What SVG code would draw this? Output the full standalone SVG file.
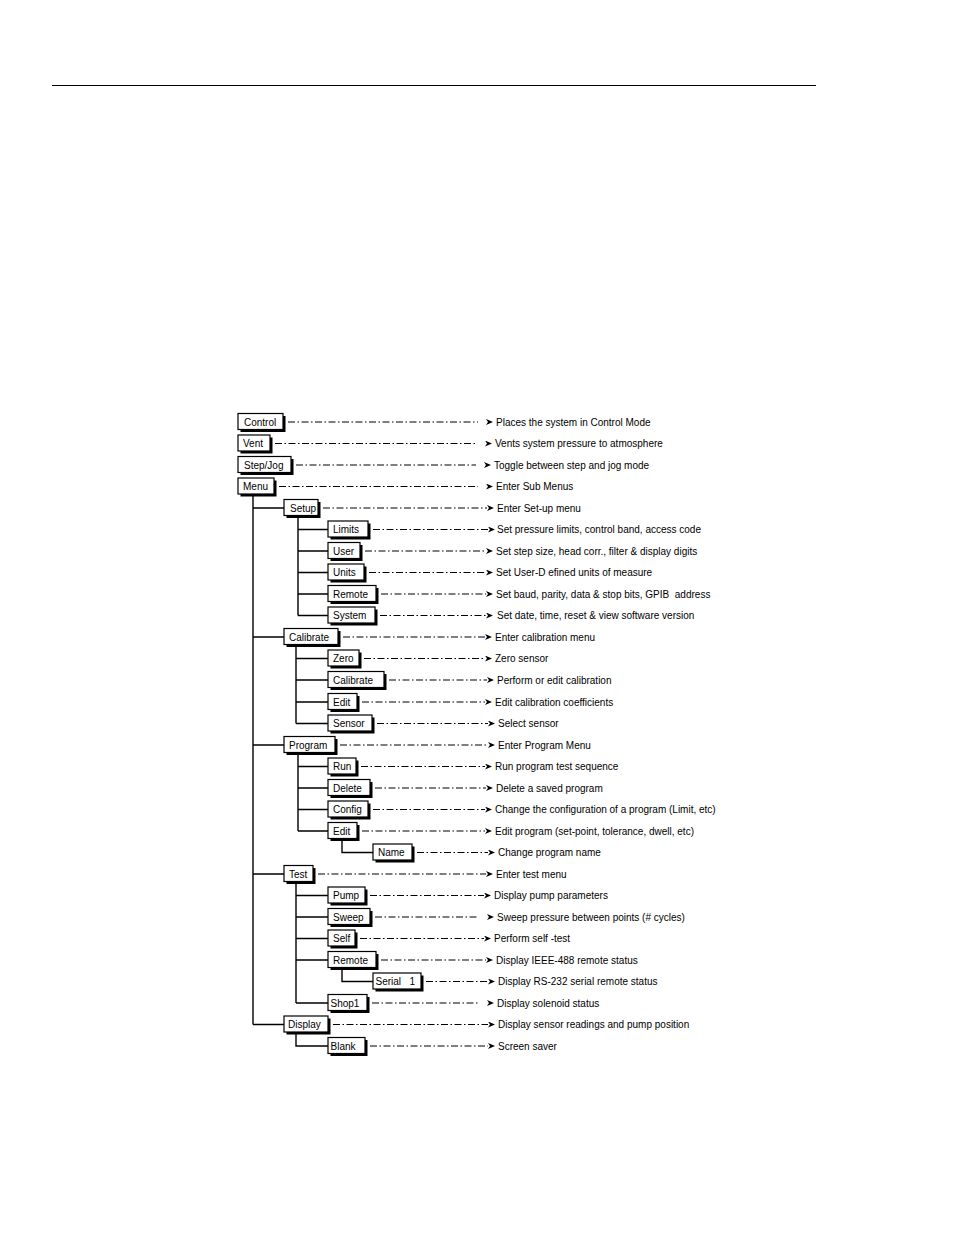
<svg xmlns="http://www.w3.org/2000/svg" width="954" height="1235" viewBox="0 0 954 1235">
<style>
.sh{fill:#000}
.box{fill:#fff;stroke:#000;stroke-width:1.2}
.t{font-family:"Liberation Sans",Arial,sans-serif;font-size:10px;fill:#000;white-space:pre}
.tree{stroke:#000;stroke-width:1.4;fill:none}
.dd{stroke:#000;stroke-width:1.1;fill:none;stroke-dasharray:7 2.5 1.5 2.5;marker-end:url(#ah)}
.dg{stroke:#000;stroke-width:1.1;fill:none;stroke-dasharray:7 2.5 1.5 2.5;marker-end:url(#ahg)}
</style>
<defs>
<marker id="ah" markerUnits="userSpaceOnUse" viewBox="0 0 8 6" markerWidth="8" markerHeight="6" refX="0" refY="3" orient="auto"><path d="M0,0 L7,3 L0,6 L2,3 Z" fill="#000"/></marker>
<marker id="ahg" markerUnits="userSpaceOnUse" viewBox="0 0 8 6" markerWidth="8" markerHeight="6" refX="-8" refY="3" orient="auto"><path d="M0,0 L7,3 L0,6 L2,3 Z" fill="#000"/></marker>
</defs>
<rect width="954" height="1235" fill="#fff"/>
<line x1="52" y1="85.5" x2="816" y2="85.5" stroke="#000" stroke-width="1.2"/>

<g id="connectors">
<path class="tree" d="M253,495 V1024.5 M253,508 H284 M253,637 H284 M253,745 H284 M253,874 H284 M253,1024.5 H284"/>
<path class="tree" d="M298,516 V615.5 M298,529.5 H328 M298,551 H328 M298,572.5 H328 M298,594 H328 M298,615.5 H328"/>
<path class="tree" d="M296,645 V723.5 M296,658.5 H328 M296,680 H328 M296,702 H328 M296,723.5 H328"/>
<path class="tree" d="M298,753 V831 M298,766.5 H328 M298,788 H328 M298,809.5 H328 M298,831 H328"/>
<path class="tree" d="M342,839 V852.5 H373"/>
<path class="tree" d="M296,882 V1003 M296,895.5 H328 M296,917 H328 M296,938.5 H328 M296,960 H328 M296,1003 H328"/>
<path class="tree" d="M342,968 V981.5 H373"/>
<path class="tree" d="M296,1032.5 V1046 H328"/>

<path class="dg" d="M288,422 H478"/>
<path class="dg" d="M275,443.5 H477"/>
<path class="dg" d="M296,465 H476"/>
<path class="dg" d="M279,486.5 H478"/>
<path class="dd" d="M323,508 H487"/>
<path class="dd" d="M373,529.5 H488"/>
<path class="dd" d="M365,551 H486"/>
<path class="dd" d="M369,572.5 H486"/>
<path class="dd" d="M381,594 H486"/>
<path class="dd" d="M380,615.5 H486"/>
<path class="dd" d="M343,637 H485"/>
<path class="dd" d="M364,658.5 H485"/>
<path class="dd" d="M389,680 H487"/>
<path class="dd" d="M362,702 H485"/>
<path class="dd" d="M377,723.5 H488"/>
<path class="dd" d="M340,745 H488"/>
<path class="dd" d="M361,766.5 H485"/>
<path class="dd" d="M375,788 H486"/>
<path class="dd" d="M373,809.5 H485"/>
<path class="dd" d="M362,831 H485"/>
<path class="dd" d="M417,852.5 H488"/>
<path class="dd" d="M318,874 H486"/>
<path class="dd" d="M370,895.5 H484"/>
<path class="dg" d="M375,917 H479"/>
<path class="dd" d="M360,938.5 H484"/>
<path class="dd" d="M381,960 H486"/>
<path class="dd" d="M426,981.5 H488"/>
<path class="dg" d="M372,1003 H479"/>
<path class="dd" d="M333,1024.5 H488"/>
<path class="dd" d="M370,1046 H488"/>
</g>

<g id="n-control"><rect class="sh" x="240.5" y="416" width="45" height="16"/><rect class="box" x="238" y="413.5" width="45" height="16"/><text class="t" x="244" y="425.5">Control</text><text class="t" x="496" y="425.5">Places the system in Control Mode</text></g>
<g id="n-vent"><rect class="sh" x="240.5" y="437.5" width="32" height="16"/><rect class="box" x="238" y="435" width="32" height="16"/><text class="t" x="243" y="447">Vent</text><text class="t" x="495" y="447">Vents system pressure to atmosphere</text></g>
<g id="n-stepjog"><rect class="sh" x="240.5" y="459" width="53" height="16"/><rect class="box" x="238" y="456.5" width="53" height="16"/><text class="t" x="244" y="468.5">Step/Jog</text><text class="t" x="494" y="468.5">Toggle between step and jog mode</text></g>
<g id="n-menu"><rect class="sh" x="240.5" y="480.5" width="36" height="16"/><rect class="box" x="238" y="478" width="36" height="16"/><text class="t" x="243" y="490">Menu</text><text class="t" x="496" y="490">Enter Sub Menus</text></g>

<g id="n-setup"><rect class="sh" x="286.5" y="502" width="34" height="16"/><rect class="box" x="284" y="499.5" width="34" height="16"/><text class="t" x="290" y="511.5">Setup</text><text class="t" x="497" y="511.5">Enter Set-up menu</text></g>
<g id="n-limits"><rect class="sh" x="330.5" y="523.5" width="40" height="16"/><rect class="box" x="328" y="521" width="40" height="16"/><text class="t" x="333" y="533">Limits</text><text class="t" x="497" y="533">Set pressure limits, control band, access code</text></g>
<g id="n-user"><rect class="sh" x="330.5" y="545" width="32" height="16"/><rect class="box" x="328" y="542.5" width="32" height="16"/><text class="t" x="333" y="554.5">User</text><text class="t" x="496" y="554.5">Set step size, head corr., filter &amp; display digits</text></g>
<g id="n-units"><rect class="sh" x="330.5" y="566.5" width="36" height="16"/><rect class="box" x="328" y="564" width="36" height="16"/><text class="t" x="333" y="576">Units</text><text class="t" x="496" y="576">Set User-D efined units of measure</text></g>
<g id="n-remote"><rect class="sh" x="330.5" y="588" width="48" height="16"/><rect class="box" x="328" y="585.5" width="48" height="16"/><text class="t" x="333" y="597.5">Remote</text><text class="t" x="496" y="597.5">Set baud, parity, data &amp; stop bits, GPIB  address</text></g>
<g id="n-system"><rect class="sh" x="330.5" y="609.5" width="47" height="16"/><rect class="box" x="328" y="607" width="47" height="16"/><text class="t" x="333" y="619">System</text><text class="t" x="497" y="619">Set date, time, reset &amp; view software version</text></g>

<g id="n-calibrate"><rect class="sh" x="286.5" y="631" width="54" height="16"/><rect class="box" x="284" y="628.5" width="54" height="16"/><text class="t" x="289" y="640.5">Calibrate</text><text class="t" x="495" y="640.5">Enter calibration menu</text></g>
<g id="n-zero"><rect class="sh" x="330.5" y="652.5" width="31" height="16"/><rect class="box" x="328" y="650" width="31" height="16"/><text class="t" x="333" y="662">Zero</text><text class="t" x="495" y="662">Zero sensor</text></g>
<g id="n-calibrate2"><rect class="sh" x="330.5" y="674" width="56" height="16"/><rect class="box" x="328" y="671.5" width="56" height="16"/><text class="t" x="333" y="683.5">Calibrate</text><text class="t" x="497" y="683.5">Perform or edit calibration</text></g>
<g id="n-edit"><rect class="sh" x="330.5" y="696" width="29" height="16"/><rect class="box" x="328" y="693.5" width="29" height="16"/><text class="t" x="333" y="705.5">Edit</text><text class="t" x="495" y="705.5">Edit calibration coefficients</text></g>
<g id="n-sensor"><rect class="sh" x="330.5" y="717.5" width="44" height="16"/><rect class="box" x="328" y="715" width="44" height="16"/><text class="t" x="333" y="727">Sensor</text><text class="t" x="498" y="727">Select sensor</text></g>

<g id="n-program"><rect class="sh" x="286.5" y="739" width="51" height="16"/><rect class="box" x="284" y="736.5" width="51" height="16"/><text class="t" x="289" y="748.5">Program</text><text class="t" x="498" y="748.5">Enter Program Menu</text></g>
<g id="n-run"><rect class="sh" x="330.5" y="760.5" width="28" height="16"/><rect class="box" x="328" y="758" width="28" height="16"/><text class="t" x="333" y="770">Run</text><text class="t" x="495" y="770">Run program test sequence</text></g>
<g id="n-delete"><rect class="sh" x="330.5" y="782" width="42" height="16"/><rect class="box" x="328" y="779.5" width="42" height="16"/><text class="t" x="333" y="791.5">Delete</text><text class="t" x="496" y="791.5">Delete a saved program</text></g>
<g id="n-config"><rect class="sh" x="330.5" y="803.5" width="40" height="16"/><rect class="box" x="328" y="801" width="40" height="16"/><text class="t" x="333" y="813">Config</text><text class="t" x="495" y="813">Change the configuration of a program (Limit, etc)</text></g>
<g id="n-edit2"><rect class="sh" x="330.5" y="825" width="29" height="16"/><rect class="box" x="328" y="822.5" width="29" height="16"/><text class="t" x="333" y="834.5">Edit</text><text class="t" x="495" y="834.5">Edit program (set-point, tolerance, dwell, etc)</text></g>
<g id="n-name"><rect class="sh" x="375.5" y="846.5" width="39" height="16"/><rect class="box" x="373" y="844" width="39" height="16"/><text class="t" x="378" y="856">Name</text><text class="t" x="498" y="856">Change program name</text></g>

<g id="n-test"><rect class="sh" x="286.5" y="868" width="29" height="16"/><rect class="box" x="284" y="865.5" width="29" height="16"/><text class="t" x="289" y="877.5">Test</text><text class="t" x="496" y="877.5">Enter test menu</text></g>
<g id="n-pump"><rect class="sh" x="330.5" y="889.5" width="37" height="16"/><rect class="box" x="328" y="887" width="37" height="16"/><text class="t" x="333" y="899">Pump</text><text class="t" x="494" y="899">Display pump parameters</text></g>
<g id="n-sweep"><rect class="sh" x="330.5" y="911" width="42" height="16"/><rect class="box" x="328" y="908.5" width="42" height="16"/><text class="t" x="333" y="920.5">Sweep</text><text class="t" x="497" y="920.5">Sweep pressure between points (# cycles)</text></g>
<g id="n-self"><rect class="sh" x="330.5" y="932.5" width="27" height="16"/><rect class="box" x="328" y="930" width="27" height="16"/><text class="t" x="333" y="942">Self</text><text class="t" x="494" y="942">Perform self -test</text></g>
<g id="n-remote2"><rect class="sh" x="330.5" y="954" width="48" height="16"/><rect class="box" x="328" y="951.5" width="48" height="16"/><text class="t" x="333" y="963.5">Remote</text><text class="t" x="496" y="963.5">Display IEEE-488 remote status</text></g>
<g id="n-serial"><rect class="sh" x="375.5" y="975.5" width="48" height="16"/><rect class="box" x="373" y="973" width="48" height="16"/><text class="t" x="375.5" y="985">Serial   1</text><text class="t" x="498" y="985">Display RS-232 serial remote status</text></g>
<g id="n-shop1"><rect class="sh" x="330.5" y="997" width="39" height="16"/><rect class="box" x="328" y="994.5" width="39" height="16"/><text class="t" x="330.5" y="1006.5">Shop1</text><text class="t" x="497" y="1006.5">Display solenoid status</text></g>

<g id="n-display"><rect class="sh" x="286.5" y="1018.5" width="44" height="16"/><rect class="box" x="284" y="1016" width="44" height="16"/><text class="t" x="288" y="1028">Display</text><text class="t" x="498" y="1028">Display sensor readings and pump position</text></g>
<g id="n-blank"><rect class="sh" x="330.5" y="1040" width="37" height="16"/><rect class="box" x="328" y="1037.5" width="37" height="16"/><text class="t" x="330.5" y="1049.5">Blank</text><text class="t" x="498" y="1049.5">Screen saver</text></g>
</svg>
